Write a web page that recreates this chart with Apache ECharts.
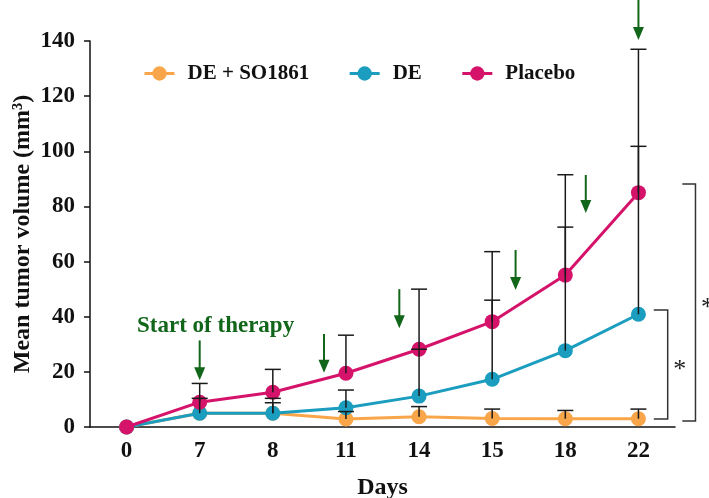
<!DOCTYPE html>
<html><head><meta charset="utf-8">
<script src="https://cdn.jsdelivr.net/npm/echarts@6/dist/echarts.min.js"></script>
<style>html,body{margin:0;padding:0;background:#fff}#c{width:709px;height:498px}</style>
</head><body><div id="c"></div>
<script>
const categories = ['0','7','8','11','14','15','18','22'];
const seriesNames = ['DE + SO1861','DE','Placebo'];
const soValues = [0, 5.0, 5.0, 2.9, 3.7, 3.1, 3.0, 3.0];
const deValues = [0, 5.0, 5.0, 7.0, 11.2, 17.3, 27.7, 40.9];
const placeboValues = [0, 9.0, 12.6, 19.5, 28.2, 38.2, 55.1, 85.0];
const soUpper = [null, null, 8.8, 5.6, 7.4, 6.5, 6.0, 6.5];
const deUpper = [null, 10.4, 10.4, 13.4, 28.2, 46.0, 72.5, 101.8];
const placeboUpper = [null, 15.8, 20.9, 33.3, 50.0, 63.6, 91.5, 137.0];
// annotation arrows (x in category-index units, y in mm3)
const arrowX = [1.0, 2.7, 3.73, 5.32, 6.28, 7.0];
const arrowTail = [31.4, 33.7, 50.0, 64.2, 91.4, 155];
const arrowTip = [17.0, 19.7, 35.8, 49.7, 77.6, 140.4];
// significance brackets
const bracketX = [7.40, 7.78];
const bracketArmX = [7.21, 7.60];
const bracketTop = [42.4, 88.1];
const bracketBottom = [2.9, 2.2];
const bracketLabel = ['*', '*'];

const colors = ['#F9A54A', '#1A9DBE', '#D6136A'];
const FONT = '"Liberation Serif", "DejaVu Serif", serif';

const chart = echarts.init(document.getElementById('c'), null, {renderer: 'canvas'});

function errData(vals, up) {
  return categories.map((c, i) => [i, vals[i], up[i]]).filter(d => d[2] != null);
}
function errRender(params, api) {
  const x = api.value(0), m = api.value(1), u = api.value(2);
  const p0 = api.coord([x, m]), p1 = api.coord([x, u]);
  const hw = 8;
  const st = {stroke: '#1a1a1a', lineWidth: 1.5};
  return {type: 'group', children: [
    {type: 'line', shape: {x1: p0[0], y1: p0[1], x2: p1[0], y2: p1[1]}, style: st},
    {type: 'line', shape: {x1: p1[0] - hw, y1: p1[1], x2: p1[0] + hw, y2: p1[1]}, style: st}
  ]};
}
function arrowRender(params, api) {
  const x = api.value(0), t = api.value(1), h = api.value(2);
  const pt = api.coord([x, t]), ph = api.coord([x, h]);
  const green = '#11661a';
  const hl = 13, hw = 5.5;
  return {type: 'group', children: [
    {type: 'line', shape: {x1: pt[0], y1: pt[1], x2: ph[0], y2: ph[1] - hl + 1}, style: {stroke: green, lineWidth: 2}},
    {type: 'polygon', shape: {points: [[ph[0] - hw, ph[1] - hl], [ph[0] + hw, ph[1] - hl], [ph[0], ph[1]]]}, style: {fill: green}}
  ]};
}
function bracketRender(params, api) {
  const x = api.value(0), xa = api.value(1), top = api.value(2), bot = api.value(3);
  const pTop = api.coord([x, top]), pBot = api.coord([x, bot]);
  const pa = api.coord([xa, top]);
  const st = {stroke: '#333', lineWidth: 1.5, fill: null};
  const midY = (pTop[1] + pBot[1]) / 2;
  return {type: 'group', children: [
    {type: 'polyline', shape: {points: [[pa[0], pTop[1]], [pTop[0], pTop[1]], [pTop[0], pBot[1]], [pa[0], pBot[1]]]}, style: st},
    {type: 'text', style: {text: bracketLabel[params.dataIndex], x: pTop[0] + 12, y: midY + 6, align: 'center', verticalAlign: 'middle', font: '26px ' + FONT, fill: '#222'}}
  ]};
}

const lineSeries = [soValues, deValues, placeboValues].map((vals, k) => ({
  name: seriesNames[k], type: 'line', data: vals, xAxisIndex: 0, yAxisIndex: 0,
  symbol: 'circle', symbolSize: 15, z: 2 + k * 0.1,
  lineStyle: {width: 3, color: colors[k]}, itemStyle: {color: colors[k]},
  emphasis: {disabled: true}, animation: false
}));
const errSeries = [[soValues, soUpper], [deValues, deUpper], [placeboValues, placeboUpper]].map(([v, u]) => ({
  type: 'custom', renderItem: errRender, data: errData(v, u), xAxisIndex: 0, yAxisIndex: 0,
  z: 5, silent: true, animation: false
}));

chart.setOption({
  backgroundColor: '#fff',
  animation: false,
  textStyle: {fontFamily: FONT},
  grid: {left: 90, top: 41, width: 585, height: 386, outerBoundsMode: 'none', containLabel: false},
  legend: {
    data: seriesNames, left: 143, top: 63, padding: 0, itemGap: 39, itemWidth: 30, itemHeight: 18,
    textStyle: {fontFamily: FONT, fontSize: 21, fontWeight: 'bold', color: '#111', padding: [0, 0, 0, 8]},
    lineStyle: {width: 3},
    selectedMode: false
  },
  xAxis: [{
    type: 'category', data: categories, boundaryGap: true,
    name: 'Days', nameLocation: 'middle', nameGap: 49,
    nameTextStyle: {fontFamily: FONT, fontSize: 24, fontWeight: 'bold', color: '#111'},
    axisLine: {onZero: false, lineStyle: {color: '#111', width: 1.5}},
    axisTick: {alignWithLabel: true, length: 6, lineStyle: {color: '#111', width: 1.5}},
    axisLabel: {fontFamily: FONT, fontSize: 23, fontWeight: 'bold', color: '#111', margin: 13}
  }, {
    type: 'value', min: -0.5, max: 7.5, show: false
  }],
  yAxis: {
    type: 'value', min: 0, max: 140, interval: 20,
    name: 'Mean tumor volume (mm³)', nameLocation: 'middle', nameGap: 55, nameMoveOverlap: false,
    nameTextStyle: {fontFamily: FONT, fontSize: 24, fontWeight: 'bold', color: '#111'},
    axisLine: {show: true, onZero: false, lineStyle: {color: '#111', width: 1.5}},
    axisTick: {show: true, length: 6, lineStyle: {color: '#111', width: 1.5}},
    splitLine: {show: false},
    axisLabel: {fontFamily: FONT, fontSize: 23, fontWeight: 'bold', color: '#111', margin: 15}
  },
  graphic: [{
    type: 'text', left: 137, top: 315,
    style: {text: 'Start of therapy', font: 'bold 23px ' + FONT, fill: '#11661a'}
  }],
  series: [
    ...lineSeries,
    ...errSeries,
    {type: 'custom', renderItem: arrowRender, xAxisIndex: 1, yAxisIndex: 0, silent: true, z: 6, clip: false,
     data: arrowX.map((x, i) => [x, arrowTail[i], arrowTip[i]])},
    {type: 'custom', renderItem: bracketRender, xAxisIndex: 1, yAxisIndex: 0, silent: true, z: 6, clip: false,
     data: bracketX.map((x, i) => [x, bracketArmX[i], bracketTop[i], bracketBottom[i]])}
  ]
});
</script></body></html>
